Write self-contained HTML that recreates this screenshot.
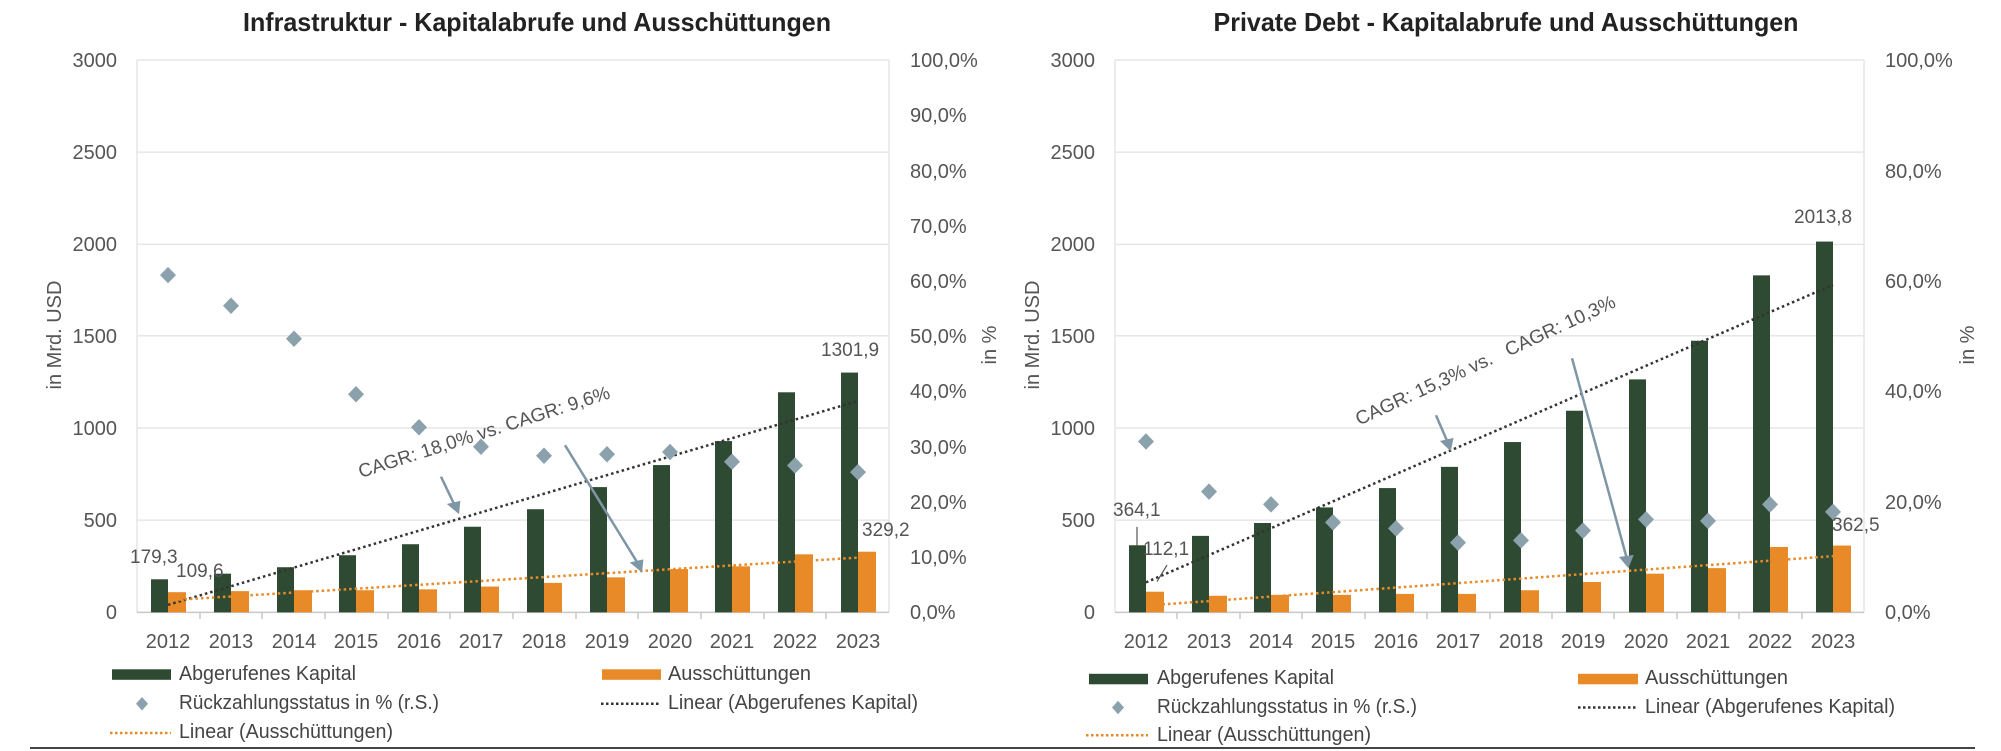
<!DOCTYPE html>
<html><head><meta charset="utf-8"><style>
html,body{margin:0;padding:0;background:#fff}
svg{display:block}
text{font-family:"Liberation Sans",sans-serif;fill:#555}
.t{font-size:20px}
.ti{font-size:26px;font-weight:bold;fill:#222}
.lg{font-size:20px;fill:#444}
line{vector-effect:non-scaling-stroke}
</style></head><body>
<svg width="2001" height="751" viewBox="0 0 2001 751" xmlns="http://www.w3.org/2000/svg">
<rect width="2001" height="751" fill="#fff"/>
<g transform="scale(1,0.7495)">
<!-- LEFT geometry -->
<g stroke="#e6e6e6" stroke-width="1.5">
<line x1="137" x2="889" y1="80" y2="80"/><line x1="137" x2="889" y1="203" y2="203"/><line x1="137" x2="889" y1="326" y2="326"/><line x1="137" x2="889" y1="448" y2="448"/><line x1="137" x2="889" y1="571" y2="571"/><line x1="137" x2="889" y1="694" y2="694"/>
<line x1="137" x2="137" y1="80" y2="817"/><line x1="889" x2="889" y1="80" y2="817"/>
</g>
<line x1="137" x2="889" y1="817" y2="817" stroke="#c8c8c8" stroke-width="1.5"/>
<g stroke="#c8c8c8" stroke-width="1.5">
<line x1="200" x2="200" y1="817" y2="826"/><line x1="262" x2="262" y1="817" y2="826"/><line x1="325" x2="325" y1="817" y2="826"/><line x1="388" x2="388" y1="817" y2="826"/><line x1="450" x2="450" y1="817" y2="826"/><line x1="513" x2="513" y1="817" y2="826"/><line x1="576" x2="576" y1="817" y2="826"/><line x1="638" x2="638" y1="817" y2="826"/><line x1="701" x2="701" y1="817" y2="826"/><line x1="764" x2="764" y1="817" y2="826"/><line x1="826" x2="826" y1="817" y2="826"/>
</g>
<g fill="#2e4a33">
<rect x="151" y="772.9" width="17" height="44.1"/><rect x="214" y="765.4" width="17" height="51.6"/><rect x="277" y="756.8" width="17" height="60.2"/><rect x="339" y="740.8" width="17" height="76.2"/><rect x="402" y="726.1" width="17" height="90.9"/><rect x="464" y="702.8" width="17" height="114.2"/><rect x="527" y="679.4" width="17" height="137.6"/><rect x="590" y="649.9" width="17" height="167.1"/><rect x="653" y="620.5" width="17" height="196.5"/><rect x="715" y="588.5" width="17" height="228.5"/><rect x="778" y="523.4" width="17" height="293.6"/><rect x="841" y="497.1" width="17" height="319.9"/>
</g>
<g fill="#e88a28">
<rect x="168" y="790.1" width="18" height="26.9"/><rect x="231" y="788.7" width="18" height="28.3"/><rect x="294" y="787.5" width="18" height="29.5"/><rect x="356" y="787.5" width="18" height="29.5"/><rect x="419" y="786.3" width="18" height="30.7"/><rect x="481" y="782.6" width="18" height="34.4"/><rect x="544" y="777.7" width="18" height="39.3"/><rect x="607" y="770.3" width="18" height="46.7"/><rect x="670" y="759.3" width="18" height="57.7"/><rect x="732" y="755.6" width="18" height="61.4"/><rect x="795" y="739.6" width="18" height="77.4"/><rect x="858" y="736.1" width="18" height="80.9"/>
</g>
<line x1="168" y1="807" x2="858" y2="535" stroke="#333" stroke-width="2.5" stroke-dasharray="2.5 3"/>
<line x1="168" y1="801" x2="858" y2="744" stroke="#e88a28" stroke-width="2.5" stroke-dasharray="2.5 3"/>
<g fill="#8ba1ac">
<path d="M168 359m0-3l8 11-8 11-8-11z"/><path d="M231 400m0-3l8 11-8 11-8-11z"/><path d="M294 444m0-3l8 11-8 11-8-11z"/><path d="M356 518m0-3l8 11-8 11-8-11z"/><path d="M419 562m0-3l8 11-8 11-8-11z"/><path d="M481 588m0-3l8 11-8 11-8-11z"/><path d="M544 600m0-3l8 11-8 11-8-11z"/><path d="M607 598m0-3l8 11-8 11-8-11z"/><path d="M670 595m0-3l8 11-8 11-8-11z"/><path d="M732 608m0-3l8 11-8 11-8-11z"/><path d="M795 613m0-3l8 11-8 11-8-11z"/><path d="M858 622m0-3l8 11-8 11-8-11z"/>
</g>
<g stroke="#7f96a6" stroke-width="2.5" fill="#7f96a6">
<line x1="441" y1="636" x2="455" y2="675"/><path d="M449 673l9 10 1-13z"/>
<line x1="565" y1="594" x2="638" y2="752"/><path d="M632 751l9 10 1-13z"/>
</g>
<rect x="112" y="893" width="59" height="14" fill="#2e4a33"/>
<rect x="602" y="893" width="59" height="14" fill="#e88a28"/>
<path d="M142 930l6 9-6 9-6-9z" fill="#8ba1ac"/>
<line x1="601" x2="660" y1="939" y2="939" stroke="#333" stroke-width="2.5" stroke-dasharray="2.5 2.5"/>
<line x1="110" x2="171" y1="978" y2="978" stroke="#e88a28" stroke-width="2.5" stroke-dasharray="2.5 2.5"/>

<!-- RIGHT geometry -->
<g stroke="#e6e6e6" stroke-width="1.5">
<line x1="1115" x2="1864" y1="80" y2="80"/><line x1="1115" x2="1864" y1="203" y2="203"/><line x1="1115" x2="1864" y1="326" y2="326"/><line x1="1115" x2="1864" y1="448" y2="448"/><line x1="1115" x2="1864" y1="571" y2="571"/><line x1="1115" x2="1864" y1="694" y2="694"/>
<line x1="1115" x2="1115" y1="80" y2="817"/><line x1="1864" x2="1864" y1="80" y2="817"/>
</g>
<line x1="1115" x2="1864" y1="817" y2="817" stroke="#c8c8c8" stroke-width="1.5"/>
<g stroke="#c8c8c8" stroke-width="1.5">
<line x1="1177" x2="1177" y1="817" y2="826"/><line x1="1240" x2="1240" y1="817" y2="826"/><line x1="1302" x2="1302" y1="817" y2="826"/><line x1="1365" x2="1365" y1="817" y2="826"/><line x1="1427" x2="1427" y1="817" y2="826"/><line x1="1490" x2="1490" y1="817" y2="826"/><line x1="1552" x2="1552" y1="817" y2="826"/><line x1="1614" x2="1614" y1="817" y2="826"/><line x1="1677" x2="1677" y1="817" y2="826"/><line x1="1739" x2="1739" y1="817" y2="826"/><line x1="1802" x2="1802" y1="817" y2="826"/>
</g>
<g fill="#2e4a33">
<rect x="1129" y="727.5" width="17" height="89.5"/><rect x="1192" y="715" width="17" height="102"/><rect x="1254" y="697.8" width="17" height="119.2"/><rect x="1316" y="677" width="17" height="140"/><rect x="1379" y="651.2" width="17" height="165.8"/><rect x="1441" y="622.9" width="17" height="194.1"/><rect x="1504" y="589.8" width="17" height="227.2"/><rect x="1566" y="548" width="17" height="269"/><rect x="1629" y="506.2" width="17" height="310.8"/><rect x="1691" y="454.6" width="17" height="362.4"/><rect x="1753" y="367.4" width="17" height="449.6"/><rect x="1816" y="322.3" width="17" height="494.7"/>
</g>
<g fill="#e88a28">
<rect x="1146" y="789.5" width="18" height="27.5"/><rect x="1209" y="794.9" width="18" height="22.1"/><rect x="1271" y="793.7" width="18" height="23.3"/><rect x="1333" y="793.7" width="18" height="23.3"/><rect x="1396" y="792.4" width="18" height="24.6"/><rect x="1458" y="792.4" width="18" height="24.6"/><rect x="1521" y="787.5" width="18" height="29.5"/><rect x="1583" y="776.5" width="18" height="40.5"/><rect x="1646" y="765.4" width="18" height="51.6"/><rect x="1708" y="758" width="18" height="59"/><rect x="1770" y="729.8" width="18" height="87.2"/><rect x="1833" y="727.9" width="18" height="89.1"/>
</g>
<line x1="1146" y1="777" x2="1833" y2="380" stroke="#333" stroke-width="2.5" stroke-dasharray="2.5 3"/>
<line x1="1146" y1="808" x2="1833" y2="742" stroke="#e88a28" stroke-width="2.5" stroke-dasharray="2.5 3"/>
<g fill="#8ba1ac">
<path d="M1146 581m0-3l8 11-8 11-8-11z"/><path d="M1209 648m0-3l8 11-8 11-8-11z"/><path d="M1271 665m0-3l8 11-8 11-8-11z"/><path d="M1333 689m0-3l8 11-8 11-8-11z"/><path d="M1396 697m0-3l8 11-8 11-8-11z"/><path d="M1458 716m0-3l8 11-8 11-8-11z"/><path d="M1521 713m0-3l8 11-8 11-8-11z"/><path d="M1583 700m0-3l8 11-8 11-8-11z"/><path d="M1646 685m0-3l8 11-8 11-8-11z"/><path d="M1708 687m0-3l8 11-8 11-8-11z"/><path d="M1770 665m0-3l8 11-8 11-8-11z"/><path d="M1833 675m0-3l8 11-8 11-8-11z"/>
</g>
<g stroke="#555" stroke-width="1.2">
<line x1="1137" y1="703" x2="1137" y2="728"/><line x1="1167" y1="754" x2="1157" y2="776"/>
</g>
<g stroke="#7f96a6" stroke-width="2.5" fill="#7f96a6">
<line x1="1436" y1="554" x2="1448" y2="591"/><path d="M1442 589l8 10 2-13z"/>
<line x1="1572" y1="478" x2="1627" y2="746"/><path d="M1621 744l7 11 4-13z"/>
</g>
<rect x="1089" y="899" width="59" height="14" fill="#2e4a33"/>
<rect x="1578" y="899" width="60" height="14" fill="#e88a28"/>
<path d="M1118 935l6 9-6 9-6-9z" fill="#8ba1ac"/>
<line x1="1578" x2="1638" y1="944" y2="944" stroke="#333" stroke-width="2.5" stroke-dasharray="2.5 2.5"/>
<line x1="1086" x2="1148" y1="981" y2="981" stroke="#e88a28" stroke-width="2.5" stroke-dasharray="2.5 2.5"/>
</g>
<line x1="30" x2="1975" y1="748" y2="748" stroke="#444" stroke-width="2"/>

<!-- LEFT text -->
<text class="ti" x="537" y="31" text-anchor="middle" textLength="588" lengthAdjust="spacingAndGlyphs">Infrastruktur - Kapitalabrufe und Ausschüttungen</text>
<g class="t" text-anchor="end">
<text x="117" y="67">3000</text><text x="117" y="159">2500</text><text x="117" y="251">2000</text><text x="117" y="343">1500</text><text x="117" y="435">1000</text><text x="117" y="527">500</text><text x="117" y="619">0</text>
</g>
<g class="t">
<text x="910" y="67">100,0%</text><text x="910" y="122">90,0%</text><text x="910" y="178">80,0%</text><text x="910" y="233">70,0%</text><text x="910" y="288">60,0%</text><text x="910" y="343">50,0%</text><text x="910" y="398">40,0%</text><text x="910" y="454">30,0%</text><text x="910" y="509">20,0%</text><text x="910" y="564">10,0%</text><text x="910" y="619">0,0%</text>
</g>
<text class="t" transform="translate(61,335) rotate(-90)" text-anchor="middle">in Mrd. USD</text>
<text class="t" transform="translate(996,345) rotate(-90)" text-anchor="middle">in %</text>
<g class="t" text-anchor="middle">
<text x="168" y="648">2012</text><text x="231" y="648">2013</text><text x="294" y="648">2014</text><text x="356" y="648">2015</text><text x="419" y="648">2016</text><text x="481" y="648">2017</text><text x="544" y="648">2018</text><text x="607" y="648">2019</text><text x="670" y="648">2020</text><text x="732" y="648">2021</text><text x="795" y="648">2022</text><text x="858" y="648">2023</text>
</g>
<g class="t" style="font-size:19px">
<text x="130" y="563">179,3</text><text x="176" y="577">109,6</text><text x="821" y="356">1301,9</text><text x="862" y="536">329,2</text>
</g>
<text class="t" style="font-size:19px" transform="translate(486,438) rotate(-17.7)" text-anchor="middle">CAGR: 18,0% vs. CAGR: 9,6%</text>
<text class="lg" x="179" y="680" textLength="177" lengthAdjust="spacingAndGlyphs">Abgerufenes Kapital</text>
<text class="lg" x="668" y="680" textLength="143" lengthAdjust="spacingAndGlyphs">Ausschüttungen</text>
<text class="lg" x="179" y="709" textLength="260" lengthAdjust="spacingAndGlyphs">Rückzahlungsstatus in % (r.S.)</text>
<text class="lg" x="668" y="709" textLength="250" lengthAdjust="spacingAndGlyphs">Linear (Abgerufenes Kapital)</text>
<text class="lg" x="179" y="738" textLength="214" lengthAdjust="spacingAndGlyphs">Linear (Ausschüttungen)</text>

<!-- RIGHT text -->
<text class="ti" x="1506" y="31" text-anchor="middle" textLength="585" lengthAdjust="spacingAndGlyphs">Private Debt - Kapitalabrufe und Ausschüttungen</text>
<g class="t" text-anchor="end">
<text x="1095" y="67">3000</text><text x="1095" y="159">2500</text><text x="1095" y="251">2000</text><text x="1095" y="343">1500</text><text x="1095" y="435">1000</text><text x="1095" y="527">500</text><text x="1095" y="619">0</text>
</g>
<g class="t">
<text x="1885" y="67">100,0%</text><text x="1885" y="178">80,0%</text><text x="1885" y="288">60,0%</text><text x="1885" y="398">40,0%</text><text x="1885" y="509">20,0%</text><text x="1885" y="619">0,0%</text>
</g>
<text class="t" transform="translate(1039,335) rotate(-90)" text-anchor="middle">in Mrd. USD</text>
<text class="t" transform="translate(1974,345) rotate(-90)" text-anchor="middle">in %</text>
<g class="t" text-anchor="middle">
<text x="1146" y="648">2012</text><text x="1209" y="648">2013</text><text x="1271" y="648">2014</text><text x="1333" y="648">2015</text><text x="1396" y="648">2016</text><text x="1458" y="648">2017</text><text x="1521" y="648">2018</text><text x="1583" y="648">2019</text><text x="1646" y="648">2020</text><text x="1708" y="648">2021</text><text x="1770" y="648">2022</text><text x="1833" y="648">2023</text>
</g>
<g class="t" style="font-size:19px">
<text x="1113" y="516">364,1</text><text x="1143" y="555">112,1</text><text x="1794" y="223">2013,8</text><text x="1832" y="531">362,5</text>
</g>
<text class="t" style="font-size:19px" transform="translate(1488,366) rotate(-24.8)" text-anchor="middle" xml:space="preserve">CAGR: 15,3% vs.   CAGR: 10,3%</text>
<text class="lg" x="1157" y="684" textLength="177" lengthAdjust="spacingAndGlyphs">Abgerufenes Kapital</text>
<text class="lg" x="1645" y="684" textLength="143" lengthAdjust="spacingAndGlyphs">Ausschüttungen</text>
<text class="lg" x="1157" y="713" textLength="260" lengthAdjust="spacingAndGlyphs">Rückzahlungsstatus in % (r.S.)</text>
<text class="lg" x="1645" y="713" textLength="250" lengthAdjust="spacingAndGlyphs">Linear (Abgerufenes Kapital)</text>
<text class="lg" x="1157" y="741" textLength="214" lengthAdjust="spacingAndGlyphs">Linear (Ausschüttungen)</text>
</svg>
</body></html>
